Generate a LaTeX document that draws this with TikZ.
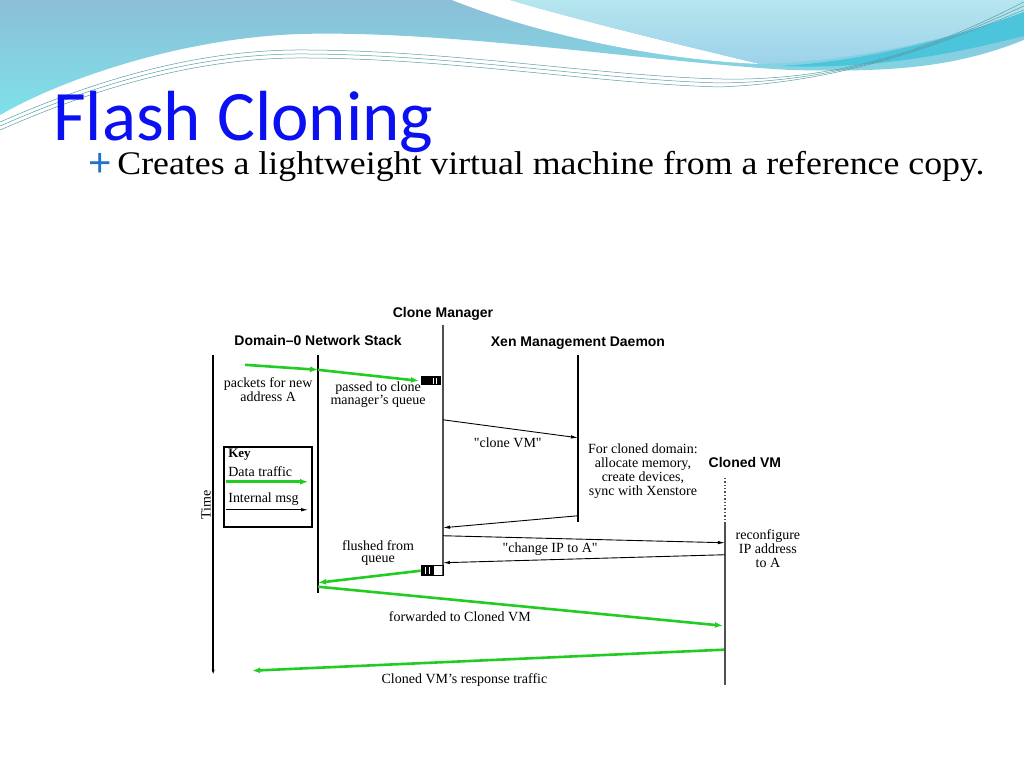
\documentclass[tikz,border=0pt]{standalone}
\usepackage{fontspec}
\setmainfont{Liberation Serif}
\setsansfont{Liberation Sans}
\newfontfamily\titlefont{Carlito}
\newfontfamily\subfont[FakeStretch=1.085]{Liberation Serif}
\usetikzlibrary{arrows.meta,positioning,calc}
\definecolor{fcblue}{HTML}{0A10F2}
\definecolor{fcplus}{HTML}{2472C8}
\definecolor{fcgreen}{HTML}{22CC22}
\definecolor{fcsky}{HTML}{8CBED8}
\definecolor{fccyan}{HTML}{7EE2EA}
\definecolor{fcpale}{HTML}{B6E6EE}
\definecolor{fcpaleb}{HTML}{9CD2EA}
\definecolor{fcband}{HTML}{4CC4DC}
\definecolor{fcline}{HTML}{5A9EA6}
\definecolor{fcgrey}{HTML}{505050}

\begin{document}
\begin{tikzpicture}[x=1pt,y=-1pt,
    who/.style={font=\sffamily\bfseries\fontsize{14}{16}\selectfont},
    lbl/.style={text=black,font=\fontsize{14}{14}\selectfont,align=center,inner sep=1pt},
    data/.style={fcgreen,line width=2.6pt,-{Latex[length=8pt,width=6pt]}},
    msg/.style={black,line width=0.9pt,-{Latex[length=7pt,width=3.5pt]}},
    life/.style={line width=2pt},
    queue/.style={fill=black,minimum width=20pt,minimum height=9pt,inner sep=0pt}]
  % slide and top waves
  \fill[white] (0,0) rectangle (1024,768);
  \shade[top color=fcsky,bottom color=fccyan] (0,0) -- (1024,0) -- (1024,40)
    .. controls (950,70) and (880,72) .. (790,70)
    .. controls (650,62) and (450,30) .. (300,34)
    .. controls (180,38) and (60,80) .. (0,115) -- cycle;
  \fill[white] (452,0) .. controls (540,35) and (660,60) .. (760,64)
    .. controls (680,45) and (570,18) .. (510,0) -- cycle;
  \shade[top color=fcpale,bottom color=fcpaleb] (510,0) -- (1024,0) -- (1024,12)
    .. controls (950,40) and (850,62) .. (760,64)
    .. controls (680,45) and (570,18) .. (510,0) -- cycle;
  \fill[fcband] (1024,12) .. controls (950,40) and (860,62) .. (780,66)
    .. controls (880,70) and (960,52) .. (1024,36) -- cycle;
  \foreach \d in {0,4,8}{
    \draw[fcline,line width=0.5pt] (0,122+\d) .. controls (100,78+\d) and (200,50+\d) .. (300,50+\d)
      .. controls (450,50+\d) and (600,76+\d) .. (720,79+\d)
      .. controls (850,82) and (950,40) .. (1024,2+\d);
  }
  % title
  \node[anchor=base west,inner sep=0pt,text=fcblue,font=\titlefont\fontsize{71}{72}\selectfont] (title) at (53,141) {Flash Cloning};
  \node[anchor=base west,inner sep=0pt,text=fcplus,font=\sffamily\fontsize{40}{40}\selectfont] (plus) at (88,177) {+};
  \node[anchor=base west,inner sep=0pt,font=\subfont\fontsize{33}{33}\selectfont] (sub) at (117,175) {Creates a lightweight virtual machine from a reference copy.};
  % diagram panel
  \fill[white] (172,248) rectangle (838,710);
  \node[who] (cm) at (443,314) {Clone Manager};
  \node[who] (d0) at (318,341) {Domain--0 Network Stack};
  \node[who] (xen) at (578,343) {Xen Management Daemon};
  \node[who] (vm) at (745,463) {Cloned VM};
  % lifelines
  \coordinate (t-top) at (213,355);  \coordinate (t-bot) at (213,676);
  \coordinate (d0-top) at (318,355); \coordinate (d0-bot) at (318,593);
  \coordinate (cm-top) at (443,325); \coordinate (cm-bot) at (443,575);
  \coordinate (xen-top) at (578,355); \coordinate (xen-bot) at (578,522);
  \coordinate (vm-top) at (725,478); \coordinate (vm-mid) at (725,522); \coordinate (vm-bot) at (725,685);
  \draw[life,-{Latex[length=6pt,width=3pt]}] (t-top) -- (t-bot);
  \draw[life] (d0-top) -- (d0-bot);
  \draw[life,fcgrey,line width=1.6pt] (cm-top) -- (cm-bot);
  \draw[life] (xen-top) -- (xen-bot);
  \draw[fcgrey,line width=1.4pt,dotted] (vm-top) -- (vm-mid);
  \draw[fcgrey,line width=1.6pt] (vm-mid) -- (vm-bot);
  \node[lbl,rotate=90] (time) at (206,505) {Time};
  % queues on the clone manager
  \node[queue] (q1) at (431,381) {};
  \draw[white,line width=1pt] ($(q1.center)+(2,-3)$) -- ++(0,6) ($(q1.center)+(5,-3)$) -- ++(0,6);
  \node[draw=black,line width=0.8pt,minimum width=22pt,minimum height=10pt,inner sep=0pt] (q2) at (432,571) {};
  \fill[black] (q2.north west) rectangle ($(q2.south west)+(13,0)$);
  \draw[white,line width=1pt] ($(q2.west)+(5,-3.5)$) -- ++(0,7) ($(q2.west)+(9,-3.5)$) -- ++(0,7);
  % packets arriving
  \coordinate (src) at (245,365);
  \coordinate (d0-in) at (318,370);
  \draw[data] (src) -- (d0-in);
  \draw[data] (d0-in) -- ($(q1.west)+(-2,0)$);
  \node[lbl] (pkts) at (268,390) {packets for new\\address A};
  \node[lbl,font=\fontsize{14}{12}\selectfont] (pass) at (378,395) {passed to clone\\manager's queue};
  % clone request
  \coordinate (cm-a) at (443,420); \coordinate (xen-a) at (578,438);
  \draw[msg] (cm-a) -- (xen-a) node[lbl,pos=0.48,below=8pt] (clonevm) {\textquotedbl clone VM\textquotedbl};
  \node[lbl] (alloc) at (643,471) {For cloned domain:\\allocate memory,\\create devices,\\sync with Xenstore};
  \coordinate (xen-b) at (578,516); \coordinate (cm-b) at (443,528);
  \draw[msg] (xen-b) -- (cm-b);
  % change ip
  \coordinate (cm-c) at (443,536); \coordinate (vm-c) at (725,543);
  \draw[msg] (cm-c) -- (vm-c) node[lbl,pos=0.38,below=3pt] (chip) {\textquotedbl change IP to A\textquotedbl};
  \coordinate (vm-d) at (725,555); \coordinate (cm-d) at (443,563);
  \draw[msg] (vm-d) -- (cm-d);
  \node[lbl] (reconf) at (768,549) {reconfigure\\IP address\\to A};
  % flush and forward
  \node[lbl,font=\fontsize{14}{12}\selectfont] (flush) at (378,553) {flushed from\\queue};
  \coordinate (d0-f) at (318,583); \coordinate (d0-g) at (318,587);
  \draw[data] (q2.west) -- (d0-f);
  \coordinate (vm-g) at (723,626);
  \draw[data] (d0-g) -- (vm-g) node[lbl,pos=0.35,below=9pt] (fwd) {forwarded to Cloned VM};
  \coordinate (vm-h) at (724,650); \coordinate (resp) at (252,671);
  \draw[data] (vm-h) -- (resp) node[lbl,pos=0.55,below=10pt] (rsp) {Cloned VM's response traffic};
  % key
  \node[draw,line width=2pt,minimum width=88pt,minimum height=80pt] (key) at (268,487) {};
  \node[lbl,anchor=west,font=\bfseries\fontsize{13}{13}\selectfont] (keyt) at ($(key.north west)+(4,9)$) {Key};
  \node[lbl,anchor=west] (keyd) at ($(key.north west)+(4,26)$) {Data traffic};
  \draw[data] ($(key.north west)+(3,36)$) coordinate (kd1) -- ($(key.north east)+(-5,36)$) coordinate (kd2);
  \node[lbl,anchor=west] (keym) at ($(key.north west)+(4,53)$) {Internal msg};
  \draw[msg] ($(key.north west)+(3,64)$) coordinate (km1) -- ($(key.north east)+(-5,64)$) coordinate (km2);
\end{tikzpicture}
\end{document}
